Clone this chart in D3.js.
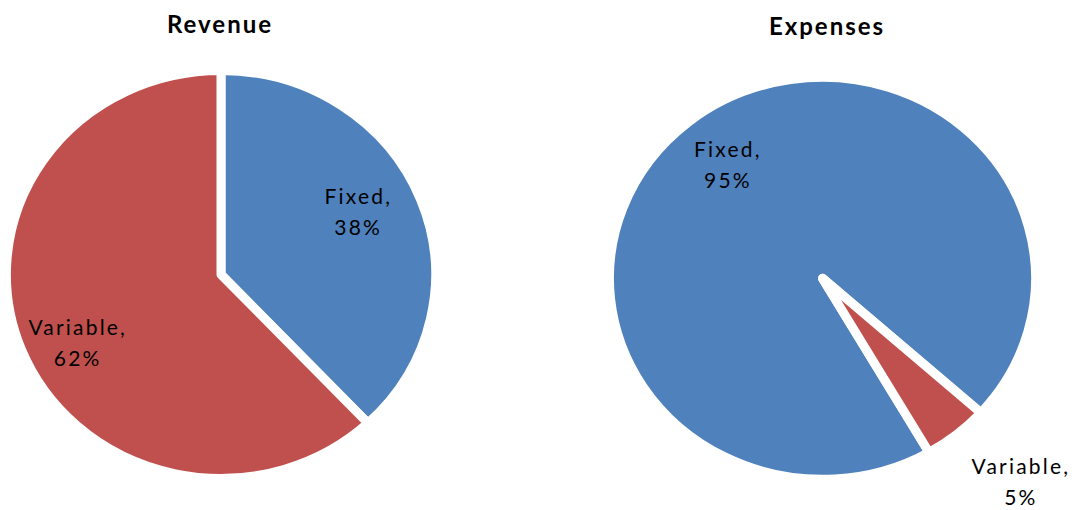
<!DOCTYPE html>
<html>
<head>
<meta charset="utf-8">
<script src="https://cdn.jsdelivr.net/npm/d3@7"></script>
<style>
  body { margin: 0; background: #fff; }
  svg text { font-family: "Lato", "Open Sans", sans-serif; fill: #000; }
</style>
</head>
<body>
<svg id="chart" width="1076" height="510"></svg>
<script>
// Cost structure shares, in percent
const categories = ["Fixed", "Variable"];
const revenueShares = [38, 62];
const expenseShares = [95, 5];
const chartTitles = ["Revenue", "Expenses"];
const sliceColors = ["#4F81BD", "#C0504D"];

const svg = d3.select("#chart");

// One panel per pie: centre, radius, horizontal stretch, first-slice angle,
// and a small best-fit nudge for each data label
const panels = [
  { title: chartTitles[0], values: revenueShares, cx: 221, cy: 274.5, r: 204, sx: 1.052, start: 0,
    titleX: 220, titleY: 33, labelK: [0.708, 0.748], nudge: [[-4, -9], [6, 13]] },
  { title: chartTitles[1], values: expenseShares, cx: 822.5, cy: 278.3, r: 201, sx: 1.06, start: 150,
    titleX: 827, titleY: 35, labelK: [0.713, 1.39], nudge: [[1, -1], [12, -13]] }
];

const color = d3.scaleOrdinal().domain(categories).range(sliceColors);

panels.forEach(p => {
  const rows = categories.map((c, i) => ({ category: c, value: p.values[i] }));
  const startRad = p.start * Math.PI / 180;

  const pie = d3.pie()
    .value(d => d.value)
    .sort(null)
    .startAngle(startRad)
    .endAngle(startRad + 2 * Math.PI);

  const arc = d3.arc().innerRadius(0).outerRadius(p.r);
  const arcs = pie(rows);

  const g = svg.append("g")
    .attr("transform", `translate(${p.cx},${p.cy}) scale(${p.sx},1)`);

  g.selectAll("path")
    .data(arcs)
    .join("path")
    .attr("d", arc)
    .attr("fill", d => color(d.data.category))
    .attr("stroke", "#fff")
    .attr("stroke-width", 9)
    .attr("stroke-linejoin", "round")
    .attr("vector-effect", "non-scaling-stroke");

  // Two-line data labels ("Category," / "NN%") along each slice's mid ray
  const labels = svg.append("g");
  arcs.forEach((d, i) => {
    const mid = (d.startAngle + d.endAngle) / 2;
    const k = p.labelK[i];
    const x = p.cx + p.sx * k * p.r * Math.sin(mid) + p.nudge[i][0];
    const y = p.cy - k * p.r * Math.cos(mid) + p.nudge[i][1];
    const t = labels.append("text")
      .attr("text-anchor", "middle")
      .attr("font-size", 21)
      .attr("letter-spacing", 2.2)
      .attr("y", y);
    t.append("tspan").attr("x", x).attr("dy", -8.5).text(d.data.category + ",");
    t.append("tspan").attr("x", x).attr("dy", 31).text(d.data.value + "%");
  });

  svg.append("text")
    .attr("x", p.titleX)
    .attr("y", p.titleY)
    .attr("text-anchor", "middle")
    .attr("font-size", 24)
    .attr("font-weight", "bold")
    .attr("letter-spacing", 2)
    .text(p.title);
});
</script>
</body>
</html>
